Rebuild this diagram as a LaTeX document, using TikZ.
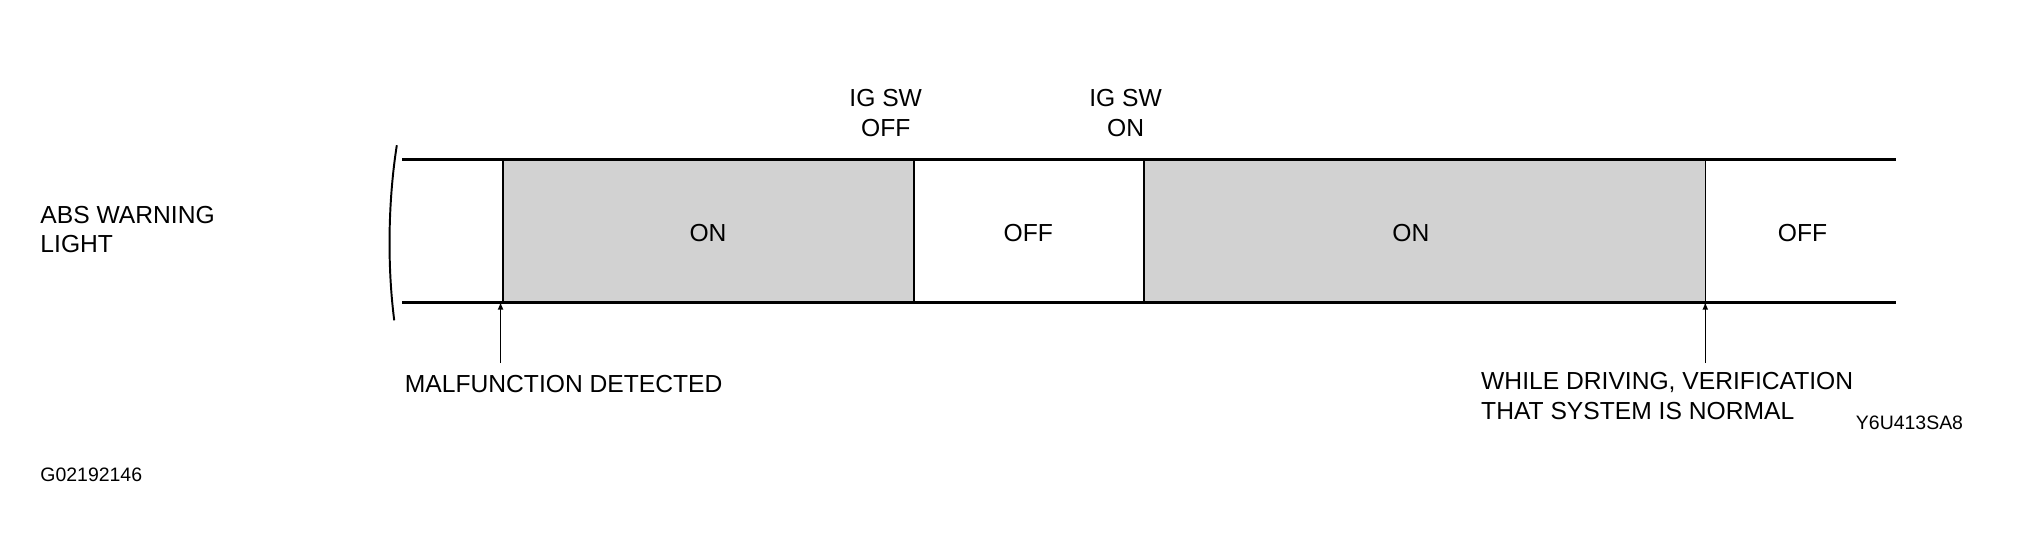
\documentclass[tikz,border=0pt]{standalone}
\usepackage{fontspec}
\setmainfont{Liberation Sans}
\usepackage{tikz}
\usetikzlibrary{positioning}

\begin{document}
\begin{tikzpicture}[x=1pt, y=-1pt, every node/.style={font=\fontsize{19}{23}\selectfont, align=center, inner sep=1pt},
    band/.style={line width=2.2pt}, phase/.style={line width=1.2pt}]
        \useasboundingbox (0,0) rectangle (1560,426);

        % Lit phases
        \fill[gray!35] (388,123) rectangle (705,233);
        \fill[gray!35] (882,123) rectangle (1315,233);
        \draw[phase] (388,123) -- (388,233);
        \draw[phase] (705,123) -- (705,233);
        \draw[phase] (882,123) -- (882,233);
        \draw[phase] (1315,123) -- (1315,233);

        % Band
        \draw[band] (310,123) -- (1462,123);
        \draw[band] (310,233) -- (1462,233);
        \draw[line width=1.5pt] (306,112) .. controls (300,150) and (298,200) .. (304,247);

        % Texts
        \node[align=left, anchor=west] (abs) at (30,177) {ABS WARNING\\LIGHT};
        \node (on1) at (546,180) {ON};
        \node (off1) at (793,180) {OFF};
        \node (on2) at (1088,180) {ON};
        \node (off2) at (1390,180) {OFF};
        \node (igoff) at (683,87) {IG SW\\OFF};
        \node (igon) at (868,87) {IG SW\\ON};

        % Markers
        \node[anchor=north west] (mal) at (311,288) {MALFUNCTION DETECTED};
        \node[align=left, anchor=north west] (drive) at (1141,286) {WHILE DRIVING, VERIFICATION\\THAT SYSTEM IS NORMAL};
        \node[anchor=west, font=\fontsize{15}{18}\selectfont] (code) at (1430,326) {Y6U413SA8};
        \node[anchor=west, font=\fontsize{15}{18}\selectfont] (fig) at (30,366) {G02192146};
        \coordinate (m1) at (386,233);
        \coordinate (m2) at (1315,233);
        \draw[-latex, line width=1pt] (386,280) -- (m1);
        \draw[-latex, line width=1pt] (1315,280) -- (m2);
    \end{tikzpicture}
\end{document}
